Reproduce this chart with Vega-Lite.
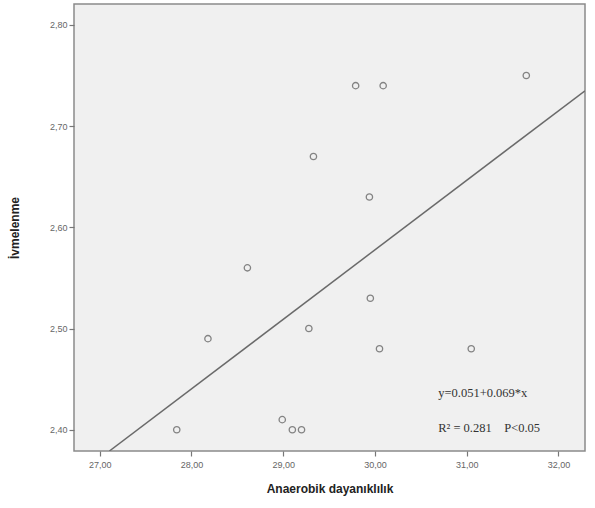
{
  "$schema": "https://vega.github.io/schema/vega-lite/v6.json",
  "width": 511,
  "height": 447,
  "autosize": {"type": "none"},
  "padding": {"left": 74, "top": 4, "right": 10, "bottom": 57},
  "background": "white",
  "config": {
    "view": {"fill": "#f0f0f0", "stroke": "#8a8a8a", "strokeWidth": 1.5},
    "axis": {
      "grid": false,
      "domain": false,
      "ticks": true,
      "tickColor": "#777",
      "tickSize": 5,
      "tickWidth": 1.2,
      "labelFont": "Liberation Sans",
      "labelFontSize": 9,
      "labelColor": "#666",
      "titleFont": "Liberation Sans",
      "titleFontSize": 12,
      "titleFontWeight": "bold",
      "titleColor": "#222"
    }
  },
  "datasets": {
    "pts": [
      {"ad": 27.84, "iv": 2.40},
      {"ad": 28.18, "iv": 2.49},
      {"ad": 28.61, "iv": 2.56},
      {"ad": 28.99, "iv": 2.41},
      {"ad": 29.10, "iv": 2.40},
      {"ad": 29.20, "iv": 2.40},
      {"ad": 29.28, "iv": 2.50},
      {"ad": 29.33, "iv": 2.67},
      {"ad": 29.79, "iv": 2.74},
      {"ad": 29.94, "iv": 2.63},
      {"ad": 29.95, "iv": 2.53},
      {"ad": 30.05, "iv": 2.48},
      {"ad": 30.09, "iv": 2.74},
      {"ad": 31.05, "iv": 2.48},
      {"ad": 31.65, "iv": 2.75}
    ],
    "fit": [
      {"ad": 27.106, "iv": 2.379},
      {"ad": 32.29, "iv": 2.735}
    ],
    "notes": [
      {"ad": 30.69, "iv": 2.4365, "t": "y=0.051+0.069*x"},
      {"ad": 30.69, "iv": 2.402, "t": "R² = 0.281\u00a0\u00a0\u00a0\u00a0P<0.05"}
    ]
  },
  "layer": [
    {
      "data": {"name": "fit"},
      "mark": {"type": "line", "color": "#6a6a6a", "strokeWidth": 1.5, "clip": true},
      "encoding": {
        "x": {"field": "ad", "type": "quantitative", "scale": {"domain": [26.72, 32.29], "nice": false, "zero": false},
          "axis": {"values": [27, 28, 29, 30, 31, 32], "labelExpr": "replace(format(datum.value, '.2f'), '.', ',')", "title": "Anaerobik dayanıklılık", "titlePadding": 14, "labelPadding": 4}},
        "y": {"field": "iv", "type": "quantitative", "scale": {"domain": [2.379, 2.8207], "nice": false, "zero": false},
          "axis": {"values": [2.4, 2.5, 2.6, 2.7, 2.8], "labelExpr": "replace(format(datum.value, '.2f'), '.', ',')", "title": "İvmelenme", "titlePadding": 28, "labelPadding": 2}}
      }
    },
    {
      "data": {"name": "pts"},
      "mark": {"type": "point", "shape": "circle", "filled": false, "size": 40, "stroke": "#555", "strokeWidth": 1.3},
      "encoding": {
        "x": {"field": "ad", "type": "quantitative"},
        "y": {"field": "iv", "type": "quantitative"}
      }
    },
    {
      "data": {"name": "notes"},
      "mark": {"type": "text", "align": "left", "baseline": "middle", "font": "Liberation Serif", "fontSize": 12.5, "color": "#333"},
      "encoding": {
        "x": {"field": "ad", "type": "quantitative"},
        "y": {"field": "iv", "type": "quantitative"},
        "text": {"field": "t"}
      }
    }
  ]
}
